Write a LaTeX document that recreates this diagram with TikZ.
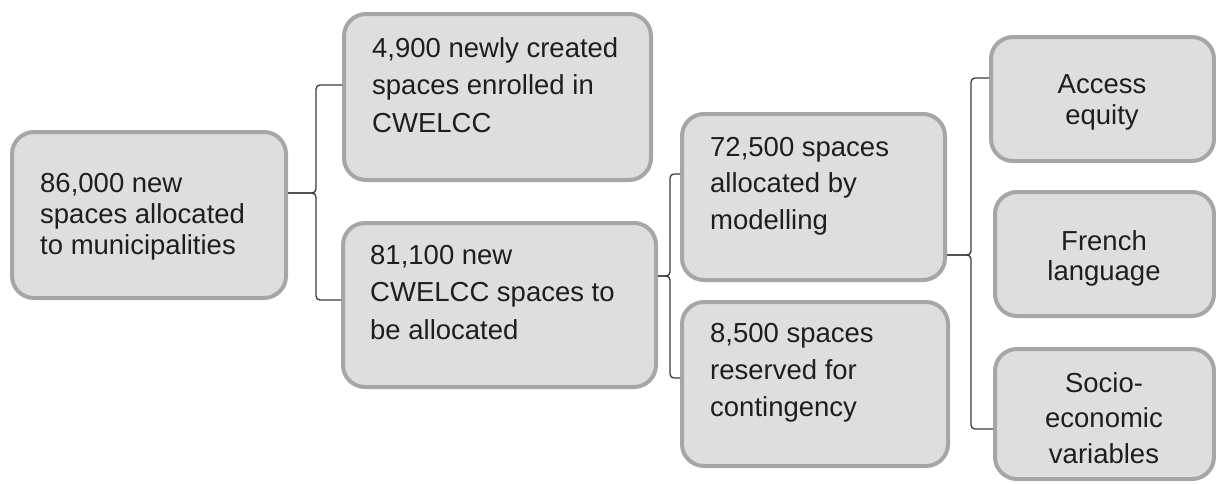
\documentclass[tikz,border=0pt]{standalone}
\usepackage{fontspec}
\setmainfont{Liberation Sans}
\definecolor{boxfill}{HTML}{DEDEDE}
\definecolor{boxline}{HTML}{A6A6A6}
\definecolor{txt}{HTML}{1E1E1E}
\definecolor{conncol}{HTML}{3A3A3A}
\tikzset{
  gbox/.style={draw=boxline, fill=boxfill, line width=4pt, rounded corners=22pt, inner sep=0pt},
  conn/.style={draw=conncol, line width=1.3pt, rounded corners=4pt},
  ltxt/.style={anchor=north west, inner sep=0pt, align=left, text=txt},
  ctxt/.style={anchor=north, inner sep=0pt, align=center, text=txt},
}
\newcommand{\fs}[1]{\fontsize{27.5}{#1}\selectfont}
\begin{document}
\begin{tikzpicture}[x=1pt,y=-1pt]
\useasboundingbox (0,0) rectangle (1216,483);
% boxes
\node[gbox, minimum width=274pt, minimum height=166pt] (A) at (149,215) {};
\node[gbox, minimum width=307pt, minimum height=166pt] (B) at (497.5,97) {};
\node[gbox, minimum width=313pt, minimum height=164pt] (C) at (499.5,305) {};
\node[gbox, minimum width=263pt, minimum height=166pt] (D) at (813.5,197) {};
\node[gbox, minimum width=266pt, minimum height=164pt] (E) at (815,384) {};
\node[gbox, minimum width=223pt, minimum height=124pt] (F) at (1102.5,99) {};
\node[gbox, minimum width=219pt, minimum height=124pt] (G) at (1104.5,254) {};
\node[gbox, minimum width=219pt, minimum height=130pt] (H) at (1104.5,414) {};
% texts
\node[ltxt, font=\fs{31}] (At) at (40,173) {86,000 new\\spaces allocated\\to municipalities};
\node[ltxt, font=\fs{37.5}] (Bt) at (372,37) {4,900 newly created\\spaces enrolled in\\CWELCC};
\node[ltxt, font=\fs{37.5}] (Ct) at (370,245) {81,100 new\\CWELCC spaces to\\be allocated};
\node[ltxt, font=\fs{36.5}] (Dt) at (710,137) {72,500 spaces\\allocated by\\modelling};
\node[ltxt, font=\fs{37}] (Et) at (710,323) {8,500 spaces\\reserved for\\contingency};
\node[ctxt, font=\fs{31}] (Ft) at (1102,74) {Access\\equity};
\node[ctxt, font=\fs{30}] (Gt) at (1104,230) {French\\language};
\node[ctxt, font=\fs{35.5}] (Ht) at (1104,372) {Socio-\\economic\\variables};
% brace tips
\coordinate (k1) at (316,193);
\coordinate (k2) at (670,276);
\coordinate (k3) at (971,255);
% connectors
\draw[conn] (k1 -| A.east) -- (k1) |- ([yshift=12pt]B.west);
\draw[conn] (k1 -| A.east) -- (k1) |- ([yshift=5pt]C.west);
\draw[conn] (k2 -| C.east) -- (k2) |- ([yshift=23pt]D.west);
\draw[conn] (k2 -| C.east) -- (k2) |- ([yshift=6pt]E.west);
\draw[conn] (k3 -| D.east) -- (k3) |- ([yshift=21pt]F.west);
\draw[conn] (k3 -| D.east) -- (k3) |- ([yshift=-15pt]H.west);
\end{tikzpicture}
\end{document}
